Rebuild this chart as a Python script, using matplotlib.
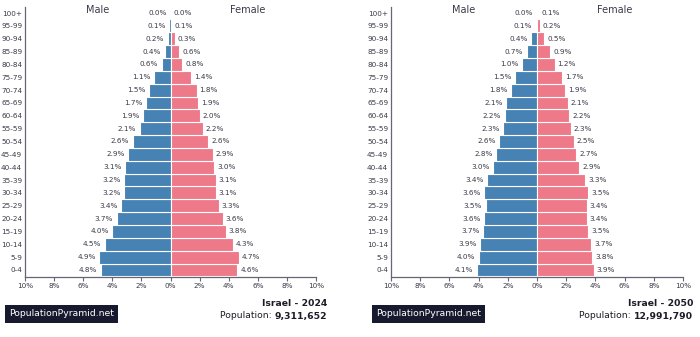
import numpy as np
import matplotlib.pyplot as plt

# age groups from youngest to oldest
ages = ["0-4", "5-9", "10-14", "15-19", "20-24", "25-29", "30-34", "35-39",
        "40-44", "45-49", "50-54", "55-59", "60-64", "65-69", "70-74",
        "75-79", "80-84", "85-89", "90-94", "95-99", "100+"]

male_2024 = [4.8, 4.9, 4.5, 4.0, 3.7, 3.4, 3.2, 3.2, 3.1, 2.9, 2.6,
             2.1, 1.9, 1.7, 1.5, 1.1, 0.6, 0.4, 0.2, 0.1, 0.0]
female_2024 = [4.6, 4.7, 4.3, 3.8, 3.6, 3.3, 3.1, 3.1, 3.0, 2.9, 2.6,
               2.2, 2.0, 1.9, 1.8, 1.4, 0.8, 0.6, 0.3, 0.1, 0.0]

male_2050 = [4.1, 4.0, 3.9, 3.7, 3.6, 3.5, 3.6, 3.4, 3.0, 2.8, 2.6,
             2.3, 2.2, 2.1, 1.8, 1.5, 1.0, 0.7, 0.4, 0.1, 0.0]
female_2050 = [3.9, 3.8, 3.7, 3.5, 3.4, 3.4, 3.5, 3.3, 2.9, 2.7, 2.5,
               2.3, 2.2, 2.1, 1.9, 1.7, 1.2, 0.9, 0.5, 0.2, 0.1]

years = ["2024", "2050"]
populations = ["9,311,652", "12,991,790"]

MALE_C = "#4682b4"
FEMALE_C = "#ee7989"
TEXT_C = "#3a3a48"
W, H = 700, 337


def px(x0, y0, x1, y1):
    # pixel box -> figure fraction [left, bottom, width, height]
    return [x0 / W, (H - y1) / H, (x1 - x0) / W, (y1 - y0) / H]


def pyramid(ax, male, female, year, pop, text_right, box_left):
    y = np.arange(len(ages))
    m = np.array(male)
    f = np.array(female)
    ax.barh(y, -m, height=1.0, color=MALE_C, edgecolor="white", linewidth=0.8)
    ax.barh(y, f, height=1.0, color=FEMALE_C, edgecolor="white", linewidth=0.8)

    for i in range(len(ages)):
        ax.text(-m[i] - 0.25, y[i], f"{m[i]:.1f}%", ha="right", va="center",
                fontsize=5.2, color=TEXT_C)
        ax.text(f[i] + 0.2, y[i], f"{f[i]:.1f}%", ha="left", va="center",
                fontsize=5.2, color=TEXT_C)

    ax.set_xlim(-10, 10)
    ax.set_ylim(-0.55, 20.47)
    ax.set_yticks(y)
    ax.set_yticklabels(ages, fontsize=5.2, color=TEXT_C)
    ticks = np.arange(-10, 11, 2)
    ax.set_xticks(ticks)
    ax.set_xticklabels([f"{abs(t)}%" for t in ticks], fontsize=5.2, color=TEXT_C)
    ax.tick_params(axis="x", length=3, width=0.8, color="#666677", pad=1.5)
    ax.tick_params(axis="y", length=0, pad=2)
    for s in ["top", "right"]:
        ax.spines[s].set_visible(False)
    for s in ["left", "bottom"]:
        ax.spines[s].set_color("#666677")
        ax.spines[s].set_linewidth(0.9)

    ax.text(-5, 20.25, "Male", ha="center", va="center", fontsize=7, color=TEXT_C)
    ax.text(5.3, 20.25, "Female", ha="center", va="center", fontsize=7, color=TEXT_C)

    fig = ax.figure
    fig.text(text_right / W, 1 - 303 / H, f"Israel - {year}", ha="right", va="center",
             fontsize=6.7, fontweight="bold", color="#1c1c28")
    num = fig.text(text_right / W, 1 - 316 / H, pop, ha="right", va="center",
                   fontsize=6.7, fontweight="bold", color="#1c1c28")
    ax.annotate("Population: ", xy=(0, 0.5), xycoords=num, ha="right", va="center",
                fontsize=6.7, color="#1c1c28")
    fig.text(box_left / W, 1 - 314 / H, "PopulationPyramid.net", ha="left", va="center",
             fontsize=6.7, color="white",
             bbox=dict(boxstyle="square,pad=0.45", facecolor="#171a2e", edgecolor="none"))


fig = plt.figure(figsize=(7, 3.37), dpi=100)
ax1 = fig.add_axes(px(25, 7, 316, 277))
ax2 = fig.add_axes(px(391, 7, 683, 277))

pyramid(ax1, male_2024, female_2024, years[0], populations[0], 327, 9)
pyramid(ax2, male_2050, female_2050, years[1], populations[1], 693, 376)

fig.savefig("out.png", dpi=100)
